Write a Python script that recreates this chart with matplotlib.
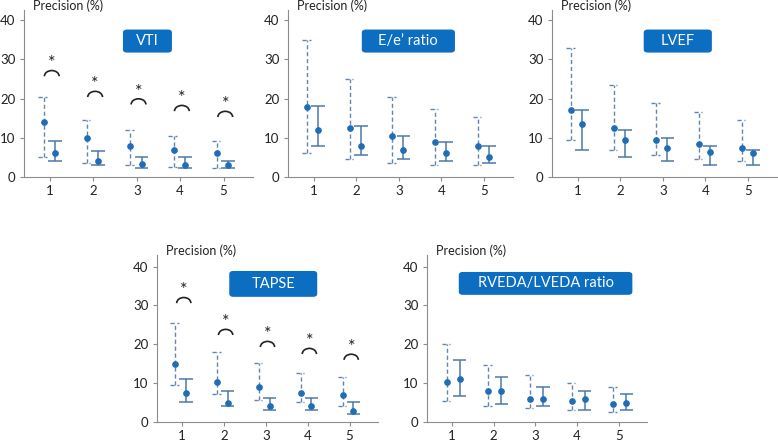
import matplotlib
matplotlib.use('Agg')
import matplotlib.pyplot as plt
from matplotlib.patches import Arc, FancyBboxPatch

plt.rcParams['font.family'] = ['Lato', 'DejaVu Sans']

groups = [1, 2, 3, 4, 5]

# VTI  (a = dashed series, b = solid series)
vti_a_mid = [14, 10, 8, 7, 6]
vti_a_lo = [5, 3.5, 3.1, 2.6, 2.2]
vti_a_hi = [20.4, 14.6, 12.1, 10.5, 9.1]
vti_b_mid = [6, 4, 3.4, 3.1, 3.1]
vti_b_lo = [4, 3.1, 2.2, 2.2, 2.2]
vti_b_hi = [9.1, 6.6, 5, 5, 4]
vti_sig = [25.7, 20.4, 18.5, 16.8, 15.3]

# E/e' ratio
ee_a_mid = [17.9, 12.5, 10.5, 9, 8]
ee_a_lo = [6, 4.6, 3.5, 3.1, 3.1]
ee_a_hi = [34.9, 24.9, 20.5, 17.4, 15.4]
ee_b_mid = [11.9, 8, 7, 6, 5]
ee_b_lo = [8, 5.5, 4.6, 4, 3.5]
ee_b_hi = [18, 13, 10.5, 9, 8]

# LVEF
lvef_a_mid = [17, 12.5, 9.5, 8.4, 7.5]
lvef_a_lo = [9.4, 7, 5.5, 4.5, 4]
lvef_a_hi = [32.9, 23.4, 19, 16.6, 14.6]
lvef_b_mid = [13.4, 9.5, 7.5, 6.5, 6]
lvef_b_lo = [7, 5, 4, 3.1, 3.1]
lvef_b_hi = [17, 12.1, 10, 8, 7]

# TAPSE
tapse_a_mid = [15, 10.4, 9.1, 7.5, 7]
tapse_a_lo = [9.6, 7.2, 5.6, 5.1, 4.2]
tapse_a_hi = [25.6, 18.1, 15.1, 12.6, 11.7]
tapse_b_mid = [7.5, 5, 4, 4, 2.9]
tapse_b_lo = [5.1, 4.2, 3.1, 3.1, 2.1]
tapse_b_hi = [11, 8, 6.1, 6.1, 5.1]
tapse_sig = [30.6, 22.4, 19.3, 17.5, 16]

# RVEDA/LVEDA ratio
rv_a_mid = [10.4, 8, 6, 5.5, 4.6]
rv_a_lo = [5.5, 4.2, 3.5, 3, 2.6]
rv_a_hi = [20, 14.6, 12.1, 10, 9]
rv_b_mid = [11, 8, 6, 6, 5]
rv_b_lo = [6.6, 4.6, 4.2, 3.1, 3]
rv_b_hi = [16, 11.7, 9, 8, 7.2]

W, H = 778, 444
PT = 72 / 100  # points per pixel

DOT = '#1F6DB5'
BAR = '#4C79A8'
DASH = '#6185AC'
BOX = '#0B6EC0'
SPINE = '#8C8C8C'


def px_rect(l, r, b, t):
    return [l / W, 1 - b / H, (r - l) / W, (b - t) / H]


# title, dashed series, solid series, significance arcs, axes pixels, ytop, offsets, box (cx, cy, w, h)
panels = [
    ('VTI', (vti_a_mid, vti_a_lo, vti_a_hi), (vti_b_mid, vti_b_lo, vti_b_hi), vti_sig,
     (24, 253, 177, 10), 42.6, (-0.15, 0.11), (0.539, 0.814, 0.214, 0.138)),
    ('E/e\u2019 ratio', (ee_a_mid, ee_a_lo, ee_a_hi), (ee_b_mid, ee_b_lo, ee_b_hi), None,
     (288, 513, 177, 10), 42.6, (-0.15, 0.11), (0.535, 0.814, 0.414, 0.138)),
    ('LVEF', (lvef_a_mid, lvef_a_lo, lvef_a_hi), (lvef_b_mid, lvef_b_lo, lvef_b_hi), None,
     (552, 777, 177, 10), 42.6, (-0.15, 0.11), (0.559, 0.814, 0.303, 0.138)),
    ('TAPSE', (tapse_a_mid, tapse_a_lo, tapse_a_hi), (tapse_b_mid, tapse_b_lo, tapse_b_hi), tapse_sig,
     (157, 378, 422, 255), 43.0, (-0.16, 0.09), (0.526, 0.827, 0.398, 0.155)),
    ('RVEDA/LVEDA ratio', (rv_a_mid, rv_a_lo, rv_a_hi), (rv_b_mid, rv_b_lo, rv_b_hi), None,
     (427, 647, 422, 255), 43.0, (-0.13, 0.18), (0.539, 0.830, 0.789, 0.137)),
]

fig = plt.figure(figsize=(W / 100, H / 100), dpi=100)

for title, a, b, sig, rect, ytop, offs, box in panels:
    ax = fig.add_axes(px_rect(*rect))
    xa = [g + offs[0] for g in groups]
    xb = [g + offs[1] for g in groups]

    # dashed series
    ax.vlines(xa, a[1], a[2], colors=DASH, lw=1.0, linestyles=(0, (3, 2)))
    for y in (a[1], a[2]):
        ax.hlines(y, [x - 0.12 for x in xa], [x + 0.08 for x in xa],
                  colors=DASH, lw=1.0, linestyles=(0, (3, 2)))
    ax.plot(xa, a[0], 'o', color=DOT, ms=3.8, zorder=5)

    # solid series
    ax.vlines(xb, b[1], b[2], colors=BAR, lw=1.1)
    for y in (b[1], b[2]):
        ax.hlines(y, [x - 0.16 for x in xb], [x + 0.16 for x in xb], colors=BAR, lw=1.1)
    ax.plot(xb, b[0], 'o', color=DOT, ms=3.8, zorder=5)

    if sig is not None:
        for g, base in zip(groups, sig):
            ax.add_patch(Arc((g + 0.04, base), 0.34, 2.9, theta1=0, theta2=180,
                             color='#222222', lw=1.2))
            ax.text(g + 0.04, base + 3.3, '*', ha='center', va='center',
                    fontsize=13, color='#222222')

    cx, cy, bw, bh = box
    ax.add_patch(FancyBboxPatch((cx - bw / 2, cy - bh / 2), bw, bh,
                                boxstyle='round,pad=0,rounding_size=0.018',
                                transform=ax.transAxes, fc=BOX, ec='none', clip_on=False))
    ax.text(cx, cy, title, transform=ax.transAxes, ha='center', va='center',
            color='white', fontsize=10.5)

    ax.annotate('Precision (%)', xy=(0, 1), xycoords='axes fraction',
                xytext=(9 * PT, 4 * PT), textcoords='offset points',
                ha='left', va='center', fontsize=9, color='#222222')

    ax.set_xlim(0.4, 5.68)
    ax.set_ylim(0, ytop)
    ax.set_xticks(groups)
    ax.set_yticks([0, 10, 20, 30, 40])
    for s in ('top', 'right'):
        ax.spines[s].set_visible(False)
    for s in ('left', 'bottom'):
        ax.spines[s].set_color(SPINE)
        ax.spines[s].set_linewidth(0.8)
    ax.tick_params(colors=SPINE, labelcolor='#222222', labelsize=9.5,
                   length=3, width=0.8, pad=3)
    ax.patch.set_alpha(0)

fig.savefig('out.png', dpi=100)
